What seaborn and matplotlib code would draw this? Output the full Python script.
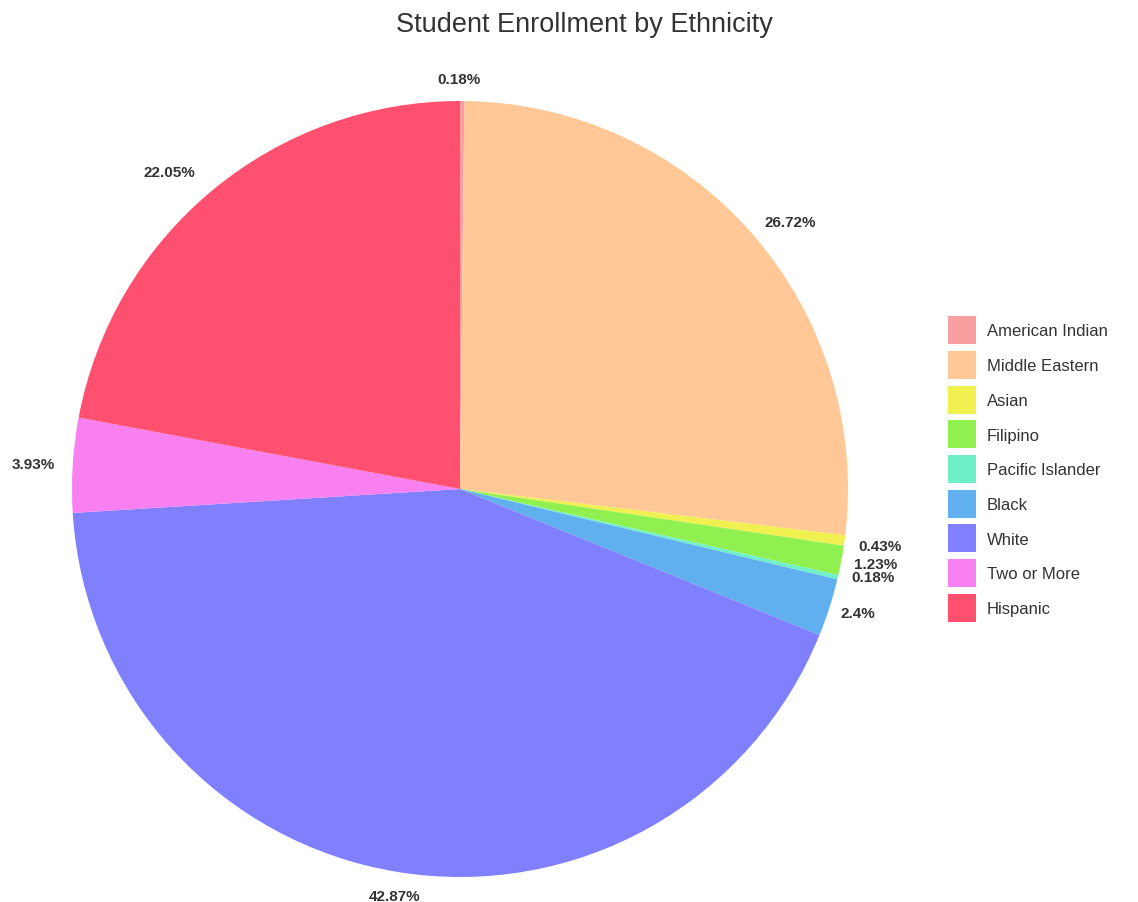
import matplotlib
matplotlib.use("Agg")
import matplotlib.pyplot as plt
import seaborn as sns
from matplotlib.patches import Patch
import numpy as np

categories = ["American Indian", "Middle Eastern", "Asian", "Filipino",
              "Pacific Islander", "Black", "White", "Two or More", "Hispanic"]
values = [0.18, 26.72, 0.43, 1.23, 0.18, 2.4, 42.87, 3.93, 22.05]
labels = ["0.18%", "26.72%", "0.43%", "1.23%", "0.18%", "2.4%", "42.87%", "3.93%", "22.05%"]
colors = ["#F8A0A0", "#FFC896", "#F0F050", "#90F050", "#70F0C8",
          "#60B0F0", "#8080FF", "#F880F0", "#FF5070"]

sns.set_theme(style="white")
plt.rcParams['font.family'] = ['Liberation Sans', 'DejaVu Sans']

W, H = 1138, 903
fig = plt.figure(figsize=(W / 100, H / 100), dpi=100)
cx, cy, r = 460, 490, 388
ax = fig.add_axes([(cx - r) / W, (H - cy - r) / H, 2 * r / W, 2 * r / H])

wedges, _ = ax.pie(values, colors=colors, startangle=90, counterclock=False,
                   radius=1.0, wedgeprops=dict(linewidth=0))
ax.set_aspect("equal")
ax.set_xlim(-1, 1)
ax.set_ylim(-1, 1)

# labels
offsets = {0: (-0.008, 0.013), 2: (-0.01, -0.008), 3: (-0.012, 0.0),
           4: (-0.01, 0.01), 5: (-0.014, 0.0), 6: (0.0, -0.018),
           8: (-0.015, 0.012)}
for i, (w, lab) in enumerate(zip(wedges, labels)):
    ang = np.deg2rad((w.theta1 + w.theta2) / 2)
    x, y = np.cos(ang), np.sin(ang)
    rr = 1.045
    ha = "left" if x > 0.2 else ("right" if x < -0.2 else "center")
    dx, dy = offsets.get(i, (0, 0))
    ax.text(rr * x + dx, rr * y + dy, lab, ha=ha, va="center", fontsize=11,
            fontweight="bold", color="#333333", clip_on=False)

fig.suptitle("Student Enrollment by Ethnicity", x=0.514, y=1 - 25 / H,
             va="center", fontsize=19.5, color="#333333")

handles = [Patch(facecolor=c, edgecolor="none") for c in colors]
fig.legend(handles, categories, loc="center left",
           bbox_to_anchor=(948 / W, 1 - 470 / H), frameon=False,
           fontsize=12, handlelength=1.68, handleheight=2.21,
           handletextpad=0.66, labelspacing=0.4, borderpad=0,
           borderaxespad=0, labelcolor="#333333")

fig.savefig("out.png", dpi=100)
